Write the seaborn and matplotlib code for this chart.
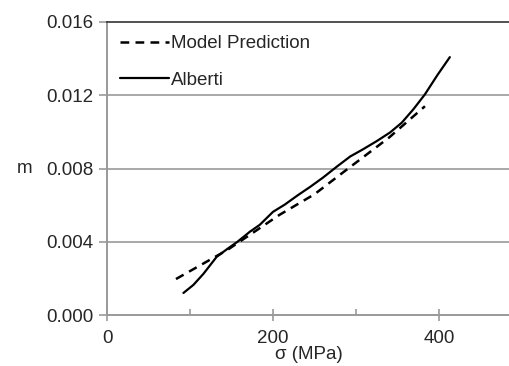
import numpy as np
import pandas as pd
import seaborn as sns
import matplotlib
matplotlib.use("Agg")
import matplotlib.pyplot as plt
from matplotlib.ticker import FixedLocator

# Data
alberti_x = [92, 104, 116, 132, 146, 157, 172, 184, 200, 214, 230, 245, 260,
             277, 293, 308, 325, 341, 355, 369, 383, 398, 413]
alberti_y = [0.00121, 0.00165, 0.00225, 0.00318, 0.00365, 0.00400, 0.00455,
             0.00493, 0.00564, 0.00603, 0.00655, 0.00701, 0.00750, 0.00811,
             0.00866, 0.00904, 0.00950, 0.00997, 0.01050, 0.01123, 0.01205,
             0.01310, 0.01408]
model_x = [83, 145, 208, 250, 289, 340, 383]
model_y = [0.00197, 0.00356, 0.00548, 0.00660, 0.00795, 0.00970, 0.01140]

y_ticks = [0.000, 0.004, 0.008, 0.012, 0.016]
y_tick_labels = ["0.000", "0.004", "0.008", "0.012", "0.016"]
x_ticks = [0, 200, 400]
x_tick_labels = ["0", "200", "400"]

sns.set_style("white")
plt.rcParams['font.family'] = ['Liberation Sans', 'DejaVu Sans']

FS = 13.5

fig = plt.figure(figsize=(5.1, 3.66), dpi=100)
ax = fig.add_axes([0.21, 0.139, 0.79, 0.801])

df_model = pd.DataFrame({"x": model_x, "y": model_y})
df_alb = pd.DataFrame({"x": alberti_x, "y": alberti_y})

sns.lineplot(data=df_model, x="x", y="y", ax=ax, color="black", lw=1.8,
             linestyle=(0, (3.5, 2.5)), label="Model Prediction", sort=False)
sns.lineplot(data=df_alb, x="x", y="y", ax=ax, color="black", lw=1.6,
             label="Alberti", sort=False)

ax.set_xlim(0, 485.5)
ax.set_ylim(0, 0.016)
ax.set_yticks(y_ticks)
ax.set_yticklabels(y_tick_labels)
ax.set_xticks(x_ticks)
ax.set_xticklabels(x_tick_labels)
ax.xaxis.set_minor_locator(FixedLocator([100, 300]))

for y in y_ticks[1:4]:
    ax.axhline(y, color="#999999", lw=1.2, zorder=0)

for s in ["left", "bottom"]:
    ax.spines[s].set_visible(True)
    ax.spines[s].set_color("#999999")
    ax.spines[s].set_linewidth(1.4)
ax.spines["top"].set_visible(True)
ax.spines["top"].set_color("#333333")
ax.spines["top"].set_linewidth(1.2)
ax.spines["right"].set_visible(False)

ax.tick_params(axis="y", which="major", direction="out", length=6, width=1.2,
               color="#999999", labelsize=FS, pad=4, left=True)
ax.tick_params(axis="x", which="major", direction="inout", length=8, width=1.2,
               color="#999999", labelsize=FS, pad=7, bottom=True)
ax.tick_params(axis="x", which="minor", direction="in", length=4, width=1.2,
               color="#999999", bottom=True)

ax.set_xlabel("σ (MPa)", fontsize=FS, labelpad=-1)
ax.set_ylabel("m", fontsize=FS, rotation=0, labelpad=0)
ax.yaxis.set_label_coords(-0.205, 0.47)

leg = ax.legend(loc="upper left", frameon=False, fontsize=FS, handlelength=2.6,
                handletextpad=0.1, labelspacing=1.05, borderaxespad=0.3,
                bbox_to_anchor=(0.0, 1.0))

fig.savefig("out.png", dpi=100)
